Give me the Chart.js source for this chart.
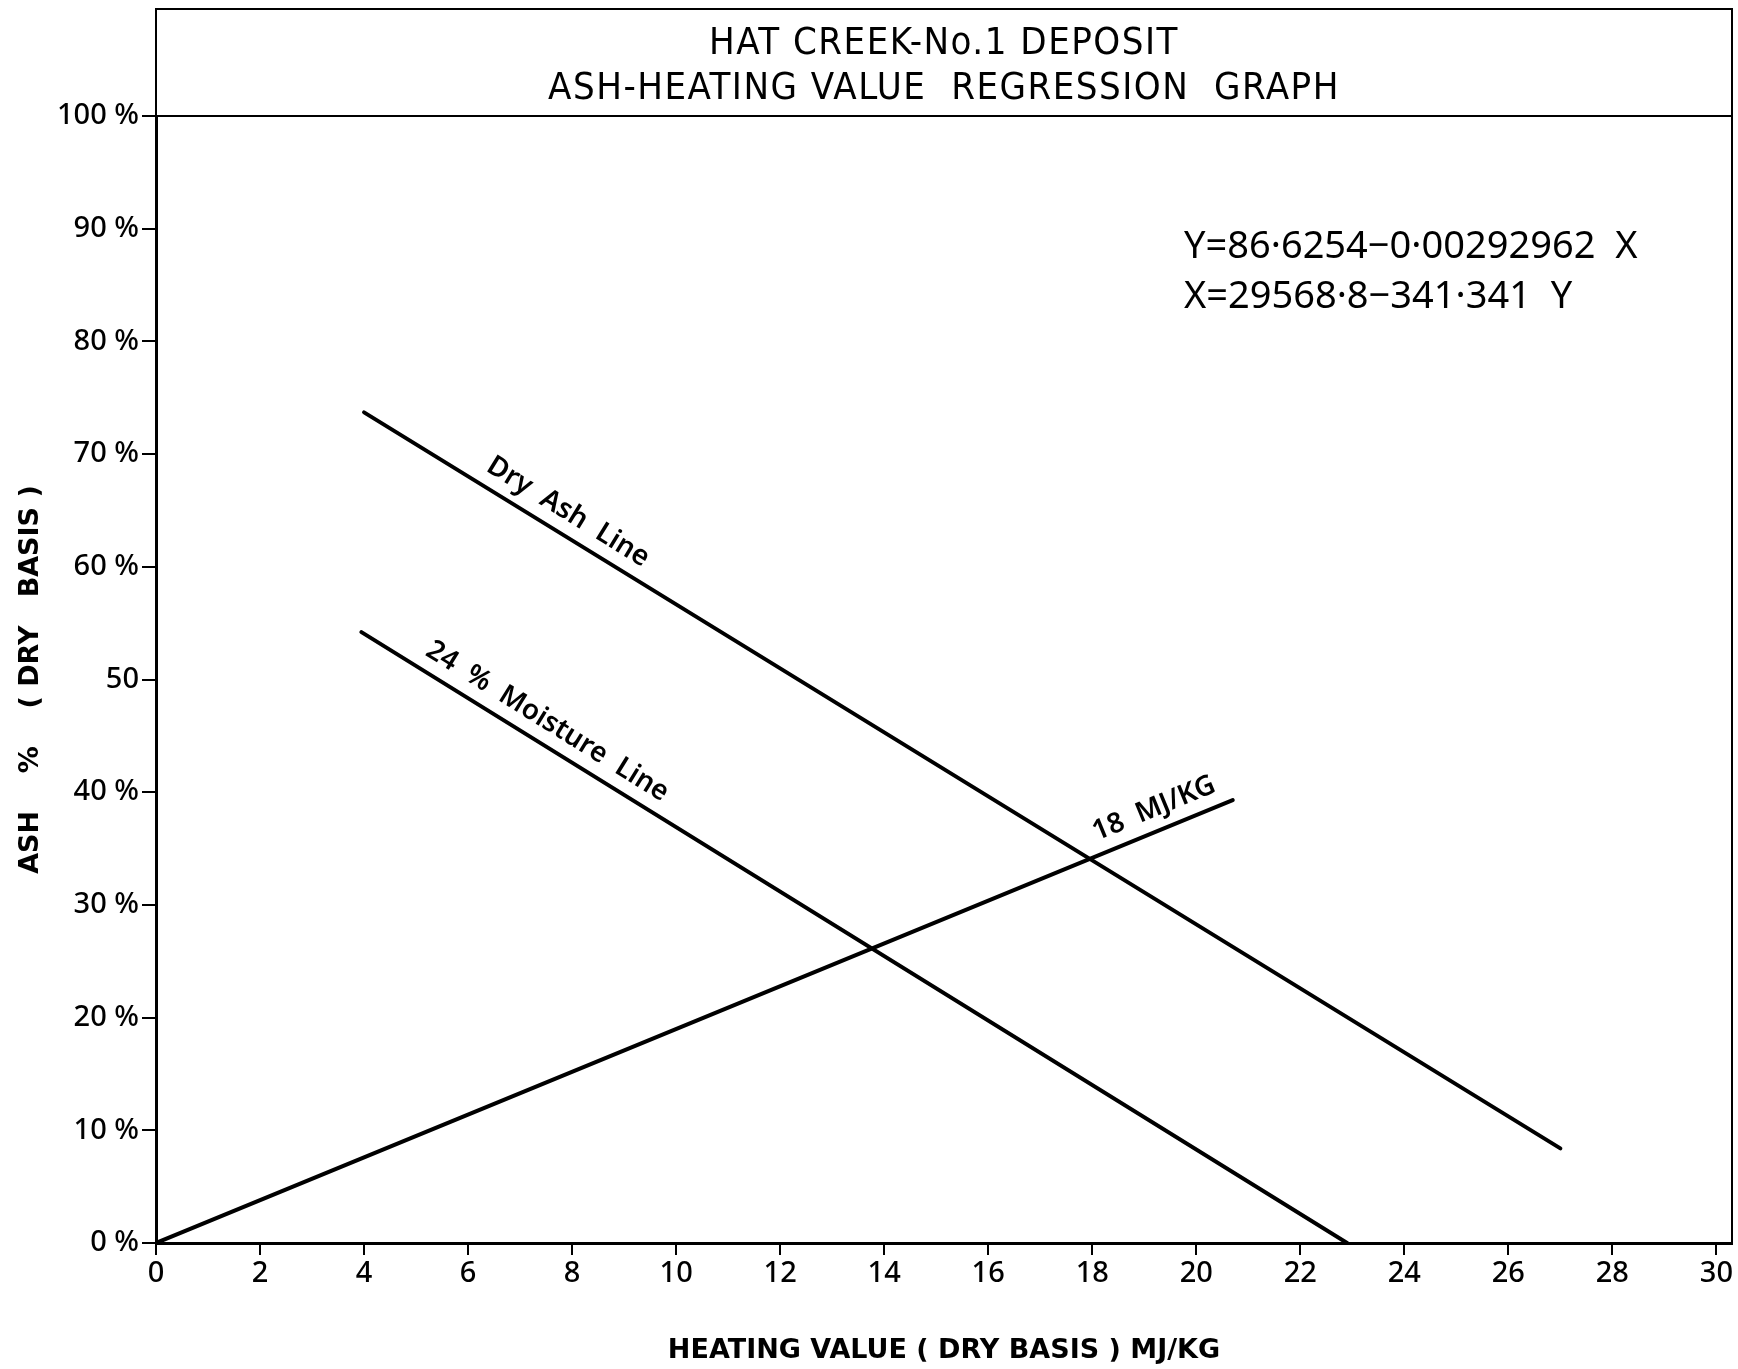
<!DOCTYPE html>
<html>
<head>
<meta charset="utf-8">
<script src="https://cdn.jsdelivr.net/npm/chart.js@4/dist/chart.umd.min.js"></script>
<style>
  html, body { margin: 0; padding: 0; background: #fff; }
  canvas { display: block; }
</style>
</head>
<body>
<canvas id="regressionChart" width="1738" height="1369"></canvas>
<script>
// Ash - heating value regression graph
const titleLines = ['HAT CREEK-No.1 DEPOSIT', 'ASH-HEATING VALUE  REGRESSION  GRAPH'];
const equations = ['Y=86·6254−0·00292962  X', 'X=29568·8−341·341  Y'];

const xTickValues = [0, 2, 4, 6, 8, 10, 12, 14, 16, 18, 20, 22, 24, 26, 28, 30];
const yTickValues = [0, 10, 20, 30, 40, 50, 60, 70, 80, 90, 100];
const yTickLabels = ['0 %', '10 %', '20 %', '30 %', '40 %', '50', '60 %', '70 %', '80 %', '90 %', '100 %'];

// line end points (heating value MJ/kg, ash %)
const dryAshX = [4, 27];
const dryAshY = [73.7, 8.4];
const moistureX = [3.95, 22.9];
const moistureY = [54.2, 0];
const mj18X = [0, 20.7];
const mj18Y = [0, 39.3];

const lineLabels = ['Dry  Ash  Line', '24  %  Moisture  Line', '18  MJ/KG'];

function toPoints(xs, ys) {
    return xs.map((x, i) => ({ x: x, y: ys[i] }));
}

const tickFont = { family: 'Noto Sans', size: 29, weight: '500' };

// frame, title box, equations and labels along the lines
const decorPlugin = {
    id: 'decor',
    afterDraw(chart) {
        const ctx = chart.ctx;
        const a = chart.chartArea;
        const xs = chart.scales.x;
        const ys = chart.scales.y;
        ctx.save();
        ctx.strokeStyle = '#000';

        // title box
        ctx.lineWidth = 2;
        ctx.beginPath();
        ctx.moveTo(a.left, a.top);
        ctx.lineTo(a.left, 9);
        ctx.lineTo(a.right, 9);
        ctx.lineTo(a.right, a.bottom);
        ctx.moveTo(a.left, a.top);
        ctx.lineTo(a.right, a.top);
        ctx.stroke();

        ctx.fillStyle = '#000';
        ctx.textAlign = 'center';
        ctx.textBaseline = 'middle';
        ctx.font = '38px "Liberation Sans Narrow", "DejaVu Sans Condensed", sans-serif';
        ctx.letterSpacing = '1.5px';
        ctx.fillText(titleLines[0], (a.left + a.right) / 2, 44);
        ctx.fillText(titleLines[1], (a.left + a.right) / 2, 89);

        // regression equations
        ctx.textAlign = 'left';
        ctx.letterSpacing = '0px';
        ctx.font = '38px "Noto Sans", sans-serif';
        ctx.fillText(equations[0], 1184, 247);
        ctx.fillText(equations[1], 1184, 297);

        // labels along lines
        const labelSpecs = [
            { xs: dryAshX, ys: dryAshY, at: 7.7, text: lineLabels[0] },
            { xs: moistureX, ys: moistureY, at: 7.3, text: lineLabels[1] },
            { xs: mj18X, ys: mj18Y, at: 19.35, text: lineLabels[2] }
        ];
        ctx.font = '600 28px "Noto Sans", sans-serif';
        ctx.textAlign = 'center';
        labelSpecs.forEach(s => {
            const x0 = xs.getPixelForValue(s.xs[0]);
            const y0 = ys.getPixelForValue(s.ys[0]);
            const x1 = xs.getPixelForValue(s.xs[1]);
            const y1 = ys.getPixelForValue(s.ys[1]);
            const ang = Math.atan2(y1 - y0, x1 - x0);
            const t = (s.at - s.xs[0]) / (s.xs[1] - s.xs[0]);
            const px = x0 + (x1 - x0) * t;
            const py = y0 + (y1 - y0) * t;
            ctx.save();
            ctx.translate(px, py);
            ctx.rotate(ang);
            ctx.fillText(s.text, 0, -22);
            ctx.restore();
        });
        ctx.restore();
    }
};

new Chart(document.getElementById('regressionChart'), {
    type: 'scatter',
    data: {
        datasets: [
            { label: 'Dry Ash Line', data: toPoints(dryAshX, dryAshY) },
            { label: '24 % Moisture Line', data: toPoints(moistureX, moistureY) },
            { label: '18 MJ/KG', data: toPoints(mj18X, mj18Y) }
        ].map(d => Object.assign(d, {
            showLine: true,
            borderColor: '#000',
            borderWidth: 4,
            borderCapStyle: 'round',
            pointRadius: 0,
            pointHoverRadius: 0
        }))
    },
    options: {
        responsive: false,
        devicePixelRatio: 1,
        animation: false,
        layout: { padding: { top: 116, right: 6, left: 0, bottom: 0 } },
        plugins: {
            legend: { display: false },
            tooltip: { enabled: false }
        },
        scales: {
            x: {
                type: 'linear',
                min: 0,
                max: 30.3,
                afterBuildTicks: scale => { scale.ticks = xTickValues.map(v => ({ value: v })); },
                afterFit: scale => { scale.height = 126; },
                border: { display: true, color: '#000', width: 3 },
                grid: { drawOnChartArea: false, drawTicks: true, tickLength: 12, color: '#000', lineWidth: 2 },
                ticks: { color: '#000', font: tickFont, padding: 1, maxRotation: 0, autoSkip: false },
                title: {
                    display: true,
                    text: 'HEATING VALUE ( DRY BASIS ) MJ/KG',
                    color: '#000',
                    font: { family: 'DejaVu Sans', size: 27, weight: '600' },
                    padding: { top: 0, bottom: 2 }
                }
            },
            y: {
                type: 'linear',
                min: 0,
                max: 100,
                afterBuildTicks: scale => { scale.ticks = yTickValues.map(v => ({ value: v })); },
                afterFit: scale => { scale.width = 156; },
                border: { display: true, color: '#000', width: 3 },
                grid: { drawOnChartArea: false, drawTicks: true, tickLength: 14, color: '#000', lineWidth: 2 },
                ticks: {
                    color: '#000',
                    font: tickFont,
                    padding: 3,
                    callback: value => yTickLabels[yTickValues.indexOf(value)]
                },
                title: {
                    display: true,
                    text: 'ASH    %    ( DRY   BASIS )',
                    color: '#000',
                    font: { family: 'DejaVu Sans', size: 27, weight: '600' },
                    padding: { top: 15, bottom: 0 }
                }
            }
        }
    },
    plugins: [decorPlugin]
});
</script>
</body>
</html>
